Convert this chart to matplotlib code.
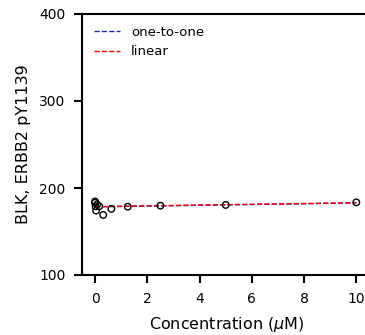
import matplotlib
matplotlib.use("Agg")
import matplotlib.pyplot as plt
import numpy as np

conc = [0, 0, 0.02, 0.04, 0.08, 0.16, 0.3125, 0.625, 1.25, 2.5, 5, 10]
signal = [184.5, 183, 179, 174, 181, 179, 169, 176, 178.5, 179.7, 180.5, 183.5]
line_x = [0, 10]
one_to_one = [178.3, 182.8]
linear = [178.6, 183.1]

fig = plt.figure(figsize=(3.65, 3.35), dpi=100)
ax = fig.add_axes([82/365, 60/335, 290/365, 261/335])
ax.plot(line_x, one_to_one, '--', color='#2020c0', lw=1, label='one-to-one', zorder=2)
ax.plot(line_x, linear, '--', color='red', lw=1, label='linear', zorder=3)
ax.scatter(conc, signal, s=22, facecolors='none', edgecolors='black', linewidths=1, zorder=4)
ax.set_xlim(-0.5, 10.6)
ax.set_ylim(100, 400)
ax.set_xticks([0, 2, 4, 6, 8, 10])
ax.set_yticks([100, 200, 300, 400])
ax.set_xlabel('Concentration ($\\mu$M)', fontsize=11.5, labelpad=7)
ax.set_ylabel('BLK, ERBB2 pY1139', fontsize=11.5, labelpad=6)
ax.tick_params(labelsize=10, width=1.5, length=6, pad=6)
for s in ax.spines.values():
    s.set_linewidth(1.5)
ax.spines['right'].set_visible(False)
ax.legend(loc='upper left', frameon=False, fontsize=9.5)
fig.savefig('out.png', dpi=100)
